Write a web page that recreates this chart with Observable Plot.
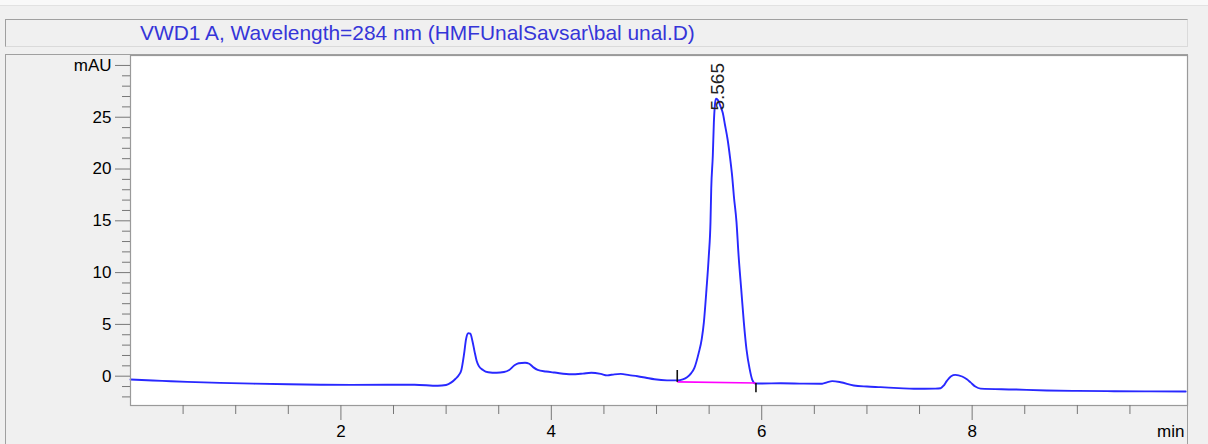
<!DOCTYPE html>
<html><head><meta charset="utf-8">
<script src="https://cdn.jsdelivr.net/npm/d3@7"></script>
<script src="https://cdn.jsdelivr.net/npm/@observablehq/plot@0.6"></script>
<style>
html,body{margin:0;padding:0;background:#f0f0f0;}
#page{position:relative;width:1208px;height:444px;overflow:hidden;font-family:"Liberation Sans",Arial,sans-serif;background:#f0f0f0;}
#topstrip{position:absolute;left:0;top:0;width:1208px;height:5px;background:#f9f9f9;border-bottom:1px solid #e2e2e2;}
#titlebox{position:absolute;left:5px;top:19px;width:1181px;height:26px;border-top:1px solid #a0a0a0;border-left:1px solid #a0a0a0;border-bottom:1px solid #dadada;border-right:1px solid #dadada;}
#title{position:absolute;left:140px;top:20px;font-size:20.9px;line-height:26px;color:#3535d8;white-space:nowrap;}
#panel{position:absolute;left:5px;top:54px;width:1181px;height:400px;border-top:1px solid #a0a0a0;border-left:1px solid #a0a0a0;border-right:1px solid #a0a0a0;}
#chart{position:absolute;left:0;top:52px;}
</style>
</head>
<body>
<div id="page">
  <div id="topstrip"></div>
  <div id="titlebox"></div>
  <div id="title">VWD1 A, Wavelength=284 nm (HMFUnalSavsar\bal unal.D)</div>
  <div id="panel"></div>
  <div id="chart"></div>
</div>
<script>
// Retention time (min)
const times = [0.00,0.30,0.54,0.85,1.17,1.50,1.81,2.10,2.44,2.70,2.92,3.00,3.05,3.09,3.12,3.145,3.17,3.19,3.21,3.23,3.25,3.27,3.29,3.31,3.35,3.40,3.48,3.55,3.60,3.65,3.69,3.75,3.79,3.83,3.87,3.95,4.03,4.19,4.30,4.38,4.47,4.53,4.60,4.66,4.74,4.82,4.90,4.98,5.10,5.20,5.25,5.29,5.33,5.36,5.40,5.43,5.45,5.475,5.497,5.513,5.52,5.535,5.545,5.555,5.565,5.58,5.61,5.63,5.65,5.675,5.70,5.72,5.735,5.76,5.78,5.805,5.83,5.855,5.885,5.91,5.94,6.00,6.18,6.40,6.575,6.62,6.67,6.75,6.875,7.00,7.13,7.30,7.445,7.65,7.70,7.73,7.76,7.80,7.84,7.905,7.95,7.985,8.03,8.08,8.40,8.71,9.00,9.35,9.70,10.03];
// Absorbance (mAU)
const signal = [-0.32,-0.45,-0.55,-0.65,-0.72,-0.78,-0.82,-0.84,-0.83,-0.82,-0.92,-0.85,-0.6,-0.25,0.1,0.6,2.1,3.6,4.15,4.1,3.4,2.4,1.5,1.0,0.6,0.38,0.33,0.40,0.60,1.05,1.25,1.3,1.2,0.85,0.6,0.45,0.35,0.18,0.25,0.33,0.22,0.08,0.18,0.22,0.1,0.0,-0.15,-0.3,-0.4,-0.4,-0.3,-0.1,0.3,0.8,2.2,3.6,5.2,8.4,11.65,14.9,18.1,21.3,24.5,26.2,26.8,26.7,26.0,25.4,24.3,22.9,21.0,19.2,17.4,14.9,11.65,8.4,5.2,2.6,0.7,-0.35,-0.7,-0.7,-0.68,-0.72,-0.73,-0.6,-0.48,-0.58,-0.9,-1.0,-1.06,-1.15,-1.22,-1.2,-1.16,-0.9,-0.45,0.0,0.13,-0.03,-0.3,-0.6,-1.0,-1.2,-1.28,-1.38,-1.42,-1.45,-1.47,-1.48];

// Integration baseline of the labelled peak
const baseStart = [5.197, -0.55];
const baseEnd = [5.945, -0.66];
const baseTickStart = [-0.55, 0.6];
const baseTickEnd = [-0.66, -1.55];

// Peak label
const peakTimes = [5.565];
const peakHeights = [26.8];
const peakLabels = ["5.565"];

// Axis ticks
const xMajor = [2, 4, 6, 8];
const xMinor = [0.5, 1, 1.5, 2.5, 3, 3.5, 4.5, 5, 5.5, 6.5, 7, 7.5, 8.5, 9, 9.5];
const yMajor = [0, 5, 10, 15, 20, 25, 30];
const yMinor = [-2, -1, 1, 2, 3, 4, 6, 7, 8, 9, 11, 12, 13, 14, 16, 17, 18, 19, 21, 22, 23, 24, 26, 27, 28, 29];
const yUnit = "mAU";
const xUnit = "min";

const data = times.map((t, i) => ({t, v: signal[i]}));
const baseline = [{x1: baseStart[0], y1: baseStart[1], x2: baseEnd[0], y2: baseEnd[1]}];
const baseTicks = [
  {x1: baseStart[0], y1: baseTickStart[0], x2: baseStart[0], y2: baseTickStart[1]},
  {x1: baseEnd[0], y1: baseTickEnd[0], x2: baseEnd[0], y2: baseTickEnd[1]}
];
const peaks = peakTimes.map((t, i) => ({t, v: peakHeights[i], label: peakLabels[i]}));

const font = "'Liberation Sans', Arial, sans-serif";

const chart = Plot.plot({
  width: 1208,
  height: 392,
  marginLeft: 130,
  marginRight: 21,
  marginTop: 3,
  marginBottom: 39,
  style: {background: "transparent", fontFamily: font, fontSize: "17px", color: "black", overflow: "visible"},
  x: {domain: [0, 10.047], label: null},
  y: {domain: [-2.83, 30.96], label: null},
  marks: [
    Plot.frame({fill: "white", stroke: null}),
    Plot.line(data, {x: "t", y: "v", stroke: "#2828ff", strokeWidth: 1.9, curve: "monotone-x"}),
    Plot.link(baseline, {x1: "x1", y1: "y1", x2: "x2", y2: "y2", stroke: "#ff00ff", strokeWidth: 1.7}),
    Plot.link(baseTicks, {x1: "x1", y1: "y1", x2: "x2", y2: "y2", stroke: "#111", strokeWidth: 1.6}),
    Plot.text(peaks, {x: "t", y: "v", text: "label", rotate: -90, textAnchor: "start", dy: 12, dx: 1.5, fontSize: 19, fill: "#222"}),
    Plot.frame({stroke: "#9a9a9a", strokeWidth: 1.2}),
    Plot.axisY({ticks: yMajor, tickSize: 15, tickPadding: 4, tickFormat: d => d === 30 ? yUnit : String(d), fontSize: 17, stroke: "#777", fill: "black", label: null}),
    Plot.axisY({ticks: yMinor, tickSize: 8, tickPadding: 4, tickFormat: () => "", stroke: "#777", label: null}),
    Plot.axisX({ticks: xMajor, tickSize: 15, tickPadding: 4, tickFormat: d => String(d), fontSize: 17, stroke: "#777", fill: "black", label: null}),
    Plot.axisX({ticks: xMinor, tickSize: 9, tickPadding: 4, tickFormat: () => "", stroke: "#777", label: null}),
    Plot.text([xUnit], {frameAnchor: "bottom-right", textAnchor: "end", lineAnchor: "middle", dx: -3, dy: 26, fontSize: 17, fill: "black"})
  ]
});
document.getElementById("chart").appendChild(chart);
</script>
</body></html>
